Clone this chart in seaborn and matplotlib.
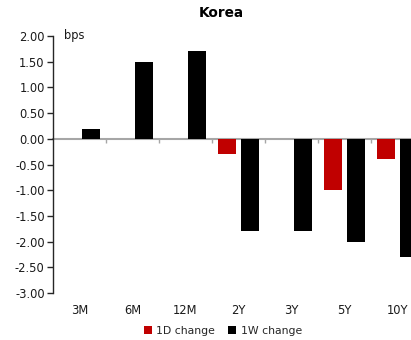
import matplotlib
matplotlib.use("Agg")
import matplotlib.pyplot as plt
import seaborn as sns
import pandas as pd

# Curve changes by tenor, in basis points
tenors = ["3M", "6M", "12M", "2Y", "3Y", "5Y", "10Y"]
change_1d = [0.0, 0.0, 0.0, -0.3, 0.0, -1.0, -0.4]
change_1w = [0.2, 1.5, 1.7, -1.8, -1.8, -2.0, -2.3]
series_names = ["1D change", "1W change"]
y_ticks = [2.0, 1.5, 1.0, 0.5, 0.0, -0.5, -1.0, -1.5, -2.0, -2.5, -3.0]

df = pd.DataFrame({
    "tenor": tenors * 2,
    "series": [series_names[0]] * len(tenors) + [series_names[1]] * len(tenors),
    "value": change_1d + change_1w,
})

sns.set_style("white")
plt.rcParams["font.family"] = ["DejaVu Sans"]

fig = plt.figure(figsize=(4.11, 3.40), dpi=100)
# plot area runs slightly past the right edge of the canvas
ax = fig.add_axes([53 / 411, 1 - 293 / 340, 371 / 411, 257 / 340])

palette = {series_names[0]: "#C00000", series_names[1]: "#000000"}
sns.barplot(data=df, x="tenor", y="value", hue="series", order=tenors,
            hue_order=series_names, palette=palette, width=0.86, gap=0.2,
            saturation=1, linewidth=0, ax=ax)

ax.set_xlim(-0.5, len(tenors) - 0.5)
ax.set_ylim(-3.0, 2.0)
ax.set_yticks(y_ticks)
ax.set_yticklabels([f"{v:.2f}" for v in y_ticks])
ax.set_xlabel("")
ax.set_ylabel("")

for side in ["top", "right", "bottom"]:
    ax.spines[side].set_visible(False)
ax.spines["left"].set_color("#262626")
ax.spines["left"].set_linewidth(1.0)

ax.tick_params(axis="y", which="major", direction="out", length=4, width=1,
               color="#262626", pad=2, labelsize=8.3, labelcolor="#1a1a1a", left=True)
ax.tick_params(axis="x", which="major", length=0, pad=8, labelsize=8.3,
               labelcolor="#1a1a1a")

# zero line with category separators pointing down
zero_frac = (0.0 - (-3.0)) / (2.0 - (-3.0))
sec = ax.secondary_xaxis(zero_frac)
sec.set_alignment("bottom")
sec.set_xticks([i + 0.5 for i in range(len(tenors) - 1)])
sec.set_xticklabels([])
sec.tick_params(axis="x", direction="out", length=3, width=1, color="#a6a6a6")
sec.spines["top"].set_visible(False)
sec.spines["bottom"].set_visible(True)
sec.spines["bottom"].set_color("#a6a6a6")
sec.spines["bottom"].set_linewidth(1.5)

ax.text(0.03, 2.0, "bps", fontsize=8.3, color="#1a1a1a", ha="left", va="center",
        transform=ax.get_yaxis_transform())

fig.text(221 / 411, 1 - 13 / 340, "Korea", fontsize=9.8, fontweight="bold",
         ha="center", va="center", color="#000000")

handles, labels = ax.get_legend_handles_labels()
ax.get_legend().remove()
fig.legend(handles, labels, loc="center", bbox_to_anchor=(223 / 411, 1 - 331 / 340),
           ncol=2, frameon=False, fontsize=7.8, handlelength=0.75, handleheight=0.75,
           handletextpad=0.4, columnspacing=1.2, borderpad=0)

fig.savefig("out.png", dpi=100)
